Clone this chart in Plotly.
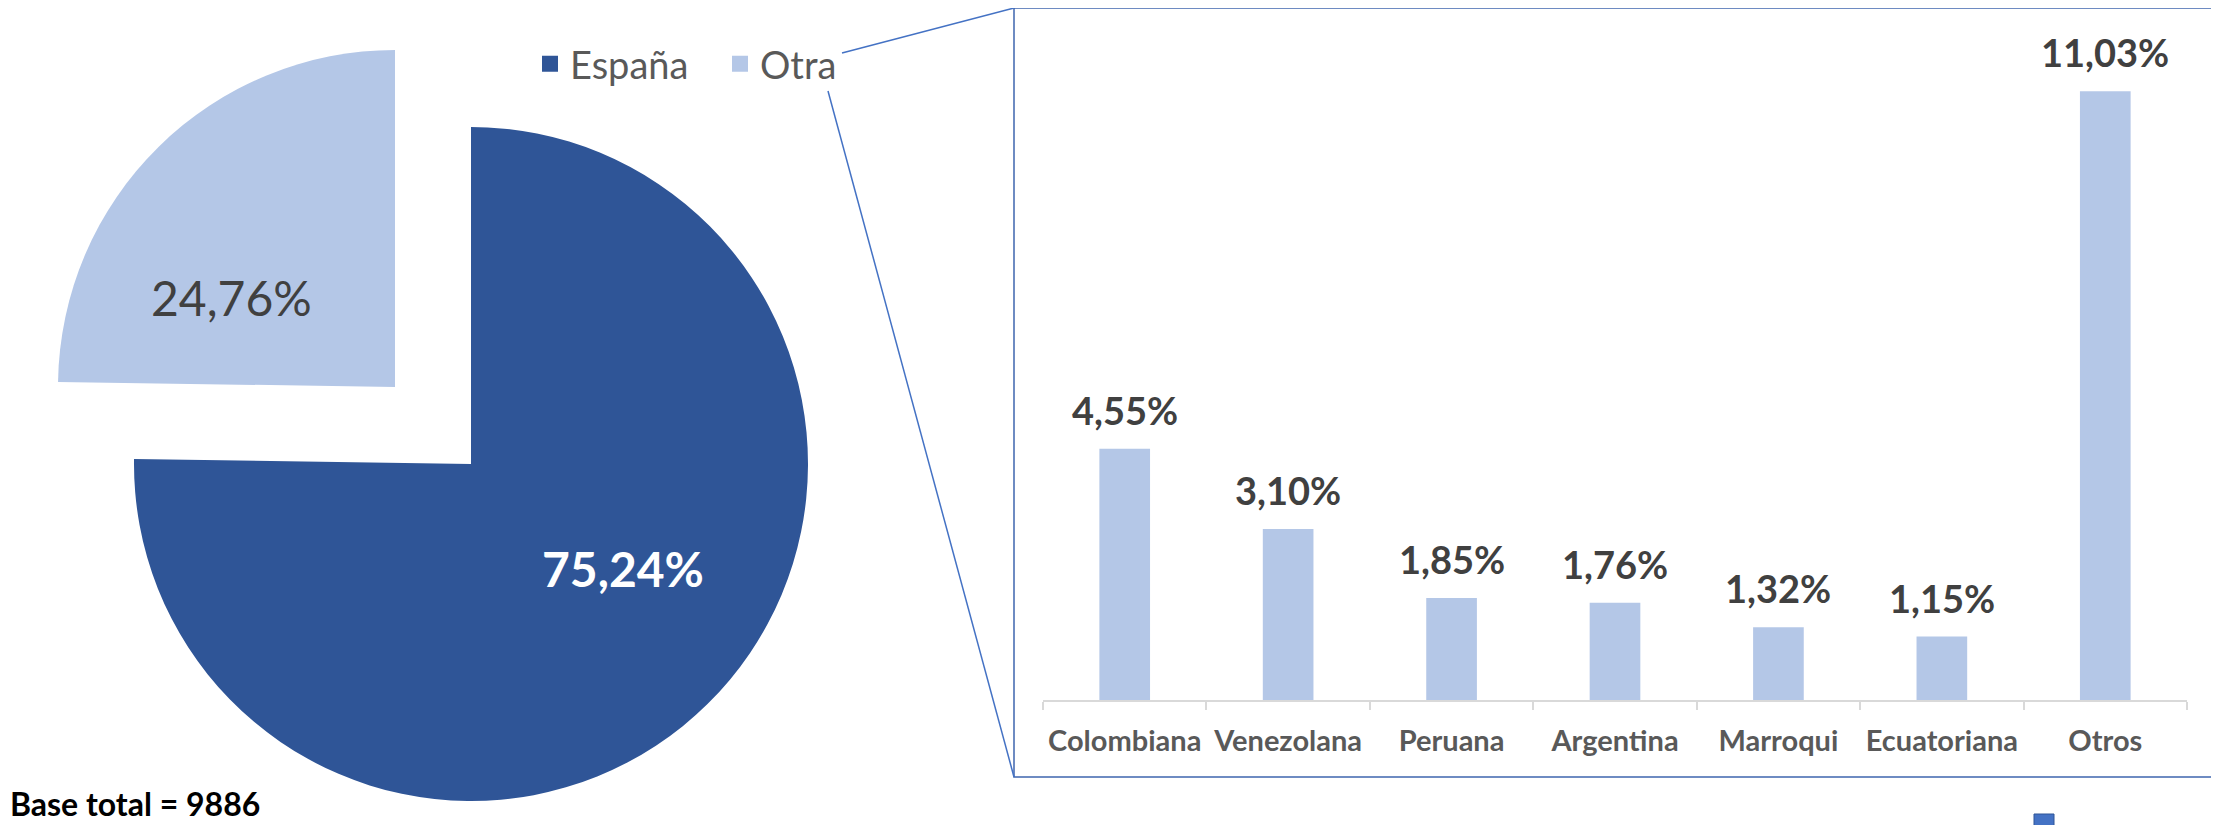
import plotly.graph_objects as go

# pie: origin
pie_labels = ["España", "Otra"]
pie_values = [75.24, 24.76]
pie_text = ["75,24%", "24,76%"]

# bar: breakdown of "Otra"
bar_categories = ["Colombiana", "Venezolana", "Peruana", "Argentina",
                  "Marroqui", "Ecuatoriana", "Otros"]
bar_values = [4.55, 3.10, 1.85, 1.76, 1.32, 1.15, 11.03]
bar_text = ["4,55%", "3,10%", "1,85%", "1,76%", "1,32%", "1,15%", "11,03%"]

base_note = "Base total = 9886"

# page body has an 8px margin, so the figure is a bit smaller and
# every position below is given in window pixels then shifted
OX, OY = 8, 8
W, H = 2219 - OX, 825 - OY
DARK = "#2F5597"
LIGHT = "#B4C7E7"
LINE = "#4472C4"
FRAME = "#3F65AE"
CLEAR = "rgba(0,0,0,0)"
FONT = "Lato"


def fx(px):
    return (px - OX) / W


def fy(py):
    return 1 - (py - OY) / H


def pie_domain(cx, cy, r):
    return dict(x=[fx(cx - r), fx(cx + r)], y=[fy(cy + r), fy(cy - r)])


R = 337
main_c = (471, 464)   # España
expl_c = (395, 387)   # Otra, pulled out

fig = go.Figure()

# main slice (España) and the exploded slice (Otra) drawn as two pies
fig.add_trace(go.Pie(
    labels=pie_labels, values=pie_values, textinfo="none",
    sort=False, direction="clockwise", rotation=0,
    marker=dict(colors=[DARK, CLEAR], line=dict(width=0)),
    domain=pie_domain(*main_c, R),
    showlegend=False, hoverinfo="label+percent",
))
fig.add_trace(go.Pie(
    labels=pie_labels, values=pie_values, textinfo="none",
    sort=False, direction="clockwise", rotation=0,
    marker=dict(colors=[CLEAR, LIGHT], line=dict(width=0)),
    domain=pie_domain(*expl_c, R),
    showlegend=False, hoverinfo="label+percent",
))

fig.add_trace(go.Bar(
    x=bar_categories, y=bar_values,
    marker=dict(color=LIGHT, line=dict(width=0)),
    showlegend=False,
))

# legend entries for the pie
for name, col in zip(pie_labels, [DARK, LIGHT]):
    fig.add_trace(go.Scatter(
        x=[None], y=[None], mode="markers", name=name,
        marker=dict(symbol="square", size=16, color=col),
    ))

# slice labels
fig.add_annotation(
    x=fx(main_c[0] + 152), y=fy(main_c[1] + 104), xref="paper", yref="paper",
    xanchor="center", yanchor="middle",
    text=pie_text[0], showarrow=False,
    font=dict(family=FONT, size=48, color="white", weight="bold"),
)
fig.add_annotation(
    x=fx(expl_c[0] - 164), y=fy(expl_c[1] - 90), xref="paper", yref="paper",
    xanchor="center", yanchor="middle",
    text=pie_text[1], showarrow=False,
    font=dict(family=FONT, size=48, color="#404040"),
)

for cat, val, txt in zip(bar_categories, bar_values, bar_text):
    fig.add_annotation(
        x=cat, y=val, text=txt, showarrow=False,
        xanchor="center", yanchor="bottom", yshift=14,
        font=dict(family=FONT, size=38, color="#404040", weight="bold"),
    )

fig.add_annotation(
    x=fx(8), y=0, xref="paper", yref="paper", text=base_note,
    showarrow=False, xanchor="left", yanchor="bottom",
    font=dict(family=FONT, size=32, color="black", weight="bold"),
)

# frame around the bar chart and connector lines
fig.add_shape(type="rect", xref="paper", yref="paper",
              x0=fx(1014), x1=fx(2214), y0=fy(777), y1=fy(8),
              line=dict(color=FRAME, width=1.5))
fig.add_shape(type="line", xref="paper", yref="paper",
              x0=fx(842), y0=fy(53), x1=fx(1014), y1=fy(8),
              line=dict(color=LINE, width=1.5))
fig.add_shape(type="line", xref="paper", yref="paper",
              x0=fx(828), y0=fy(91), x1=fx(1014), y1=fy(777),
              line=dict(color=LINE, width=1.5))
fig.add_shape(type="rect", xref="paper", yref="paper",
              x0=fx(2034), x1=fx(2054), y0=fy(830), y1=fy(814),
              fillcolor=LINE, line=dict(color=DARK, width=1))

fig.update_layout(
    width=W, height=H,
    margin=dict(l=0, r=0, t=0, b=0, autoexpand=False),
    paper_bgcolor="white", plot_bgcolor="white",
    font=dict(family=FONT),
    bargap=0.69,
    legend=dict(
        orientation="h", x=fx(530), y=fy(64),
        xanchor="left", yanchor="middle", entrywidth=145,
        font=dict(family=FONT, size=38, color="#595959"),
        bgcolor=CLEAR,
    ),
    xaxis=dict(
        domain=[fx(1043), fx(2187)],
        showline=True, linecolor="#D9D9D9", linewidth=1.5,
        ticks="outside", tickson="boundaries", ticklen=8,
        tickcolor="#D9D9D9", tickwidth=1.5,
        showgrid=False, ticklabelstandoff=14,
        tickangle=0, automargin=False,
        tickfont=dict(family=FONT, size=29, color="#595959", weight="bold"),
    ),
    yaxis=dict(
        domain=[fy(700), fy(37.6)], range=[0, 12],
        visible=False, showgrid=False, automargin=False,
    ),
)

fig.write_html("out.html")
